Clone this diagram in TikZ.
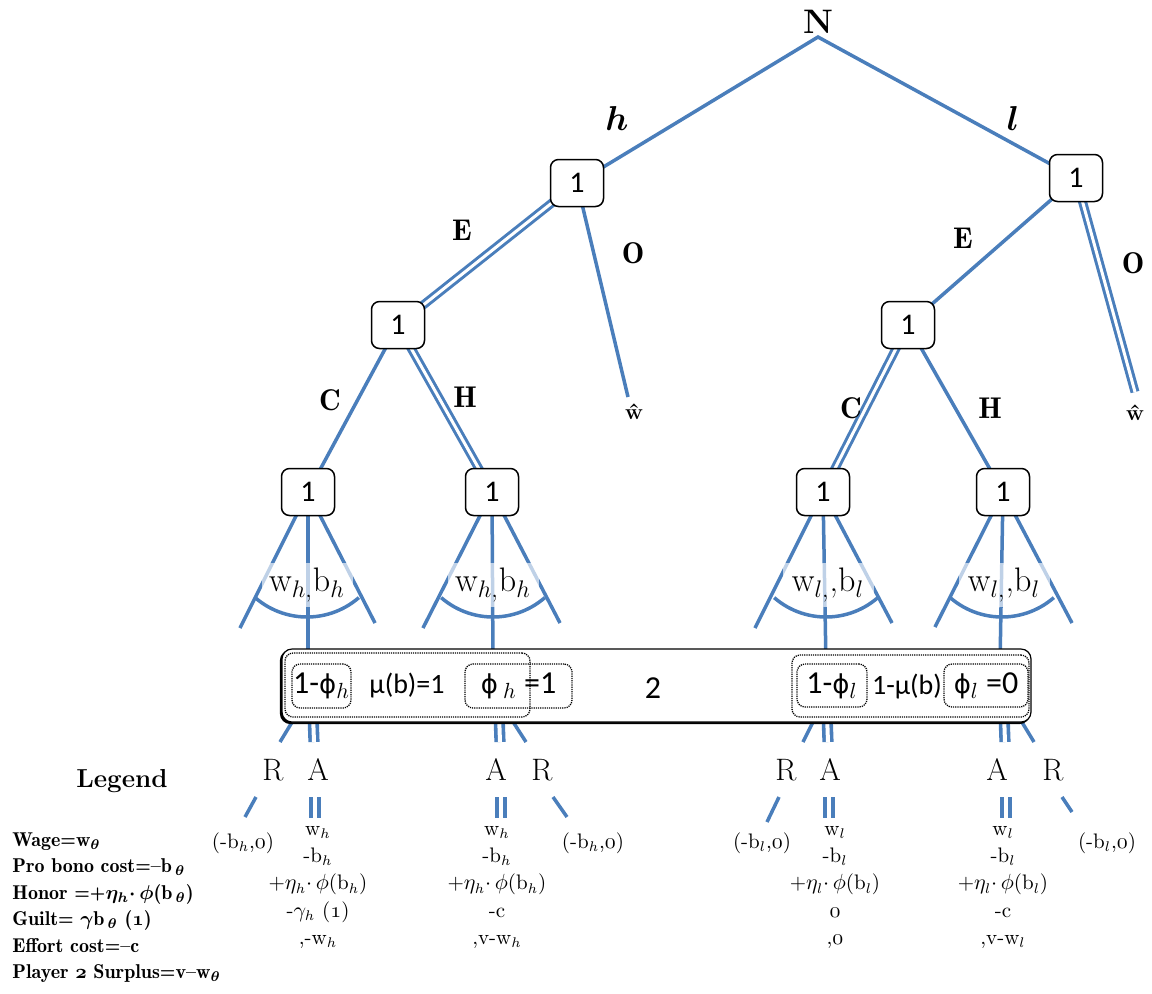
\documentclass[tikz,border=0pt]{standalone}
\usepackage{fontspec}
\newfontfamily\calfont{Carlito}
\newfontfamily\djs{DejaVu Sans}
\definecolor{tb}{RGB}{74,126,187}
\newcommand\osn[1]{$\mathnormal{#1}$}
\newcommand\vphi{{\djs\fontsize{13}{13}\selectfont ϕ}}
\pgfdeclarelayer{edges}
\pgfsetlayers{edges,main}
\tikzset{
  tline/.style={draw=tb,line width=1.75pt},
  dline/.style={draw=tb,line width=1.5pt,double=white,double distance=1.5pt},
  sline/.style={draw=tb,line width=1.8pt,double=white,double distance=2pt},
  pbox/.style={draw=black,line width=0.75pt,rounded corners=4pt,fill=white,minimum width=26.5pt,minimum height=23.5pt,inner sep=0pt,font=\calfont\fontsize{15}{15}\selectfont},
  lab/.style={inner sep=0pt,font=\fontsize{15}{15}\selectfont\fontseries{b}\selectfont},
  ralab/.style={inner sep=0pt,font=\fontsize{15.5}{15.5}\selectfont},
  arclab/.style={fill=white,fill opacity=0.65,text opacity=1,minimum width=45.5pt,minimum height=22pt,inner sep=0pt,font=\fontsize{17}{17}\selectfont},
  bandbox/.style={draw=black,line width=0.6pt,rounded corners=5pt,fill=white,minimum width=374.5pt,minimum height=36.5pt,inner sep=0pt},
  dbox/.style={draw=black,line width=0.65pt,dash pattern=on 0.6pt off 0.5pt,rounded corners=4pt,inner sep=0pt},
  bigtxt/.style={inner sep=0pt,font=\calfont\fontsize{16}{16}\selectfont},
  smalltxt/.style={inner sep=0pt,font=\calfont\fontsize{14}{14}\selectfont},
  pay/.style={inner sep=0pt,align=center,font=\fontsize{10.5}{13.6}\selectfont},
  leg/.style={inner sep=0pt,anchor=base west,font=\fontsize{10}{12}\selectfont\fontseries{b}\selectfont\boldmath},
}
\begin{document}
\begin{tikzpicture}[x=0.5pt,y=-0.5pt]
\useasboundingbox (0,0) rectangle (1152,993);

% ---------- tree nodes ----------
\node[pbox] (n1) at (577,183) {1};
\node[pbox] (n2) at (1076,178) {1};
\node[pbox] (n3) at (398,325) {1};
\node[pbox] (n4) at (908,325) {1};
\node[pbox] (n5) at (308,492) {1};
\node[pbox] (n6) at (492,492) {1};
\node[pbox] (n7) at (823,492) {1};
\node[pbox] (n8) at (1003,492) {1};
\coordinate (root) at (818,37);
\coordinate (w1) at (628,397);
\coordinate (w2) at (1135,392);

% fan end points
\coordinate (f5l) at (240,628); \coordinate (f5r) at (375,623); \coordinate (f5m) at (308,665);
\coordinate (f6l) at (423,628); \coordinate (f6r) at (560,623); \coordinate (f6m) at (493,665);
\coordinate (f7l) at (755,628); \coordinate (f7r) at (892,623); \coordinate (f7m) at (826,665);
\coordinate (f8l) at (935,627); \coordinate (f8r) at (1072,623); \coordinate (f8m) at (1000,665);

% stubs below the information set
\coordinate (ua1) at (297,714); \coordinate (ub1) at (280,742);
\coordinate (ua2) at (313,714); \coordinate (ub2) at (314,742);
\coordinate (ua3) at (499,714); \coordinate (ub3) at (500,742);
\coordinate (ua4) at (508,714); \coordinate (ub4) at (526,742);
\coordinate (ua5) at (817,714); \coordinate (ub5) at (803,742);
\coordinate (ua6) at (827,714); \coordinate (ub6) at (828,742);
\coordinate (ua7) at (1004,714); \coordinate (ub7) at (1005,742);
\coordinate (ua8) at (1017,714); \coordinate (ub8) at (1034,742);
\coordinate (la1) at (256,797); \coordinate (lb1) at (245,817);
\coordinate (la2) at (315,797); \coordinate (lb2) at (315,818);
\coordinate (la3) at (501,797); \coordinate (lb3) at (501,818);
\coordinate (la4) at (553,797); \coordinate (lb4) at (567,817);
\coordinate (la5) at (779,797); \coordinate (lb5) at (767,822);
\coordinate (la6) at (829,797); \coordinate (lb6) at (829,818);
\coordinate (la7) at (1006,797); \coordinate (lb7) at (1006,818);
\coordinate (la8) at (1062,797); \coordinate (lb8) at (1072,812);

\begin{pgfonlayer}{edges}
\draw[tline,line join=miter] (n1.center) -- (root) -- (n2.center);
\draw[dline] (n1.center) -- (n3.center);
\draw[tline] (n1.center) -- (w1);
\draw[tline] (n2.center) -- (n4.center);
\draw[dline] (n2.center) -- (w2);
\draw[tline] (n3.center) -- (n5.center);
\draw[dline] (n3.center) -- (n6.center);
\draw[dline] (n4.center) -- (n7.center);
\draw[tline] (n4.center) -- (n8.center);
\foreach \k in {5,6,7,8}{
  \draw[tline] (n\k.center) -- (f\k l);
  \draw[tline] (n\k.center) -- (f\k r);
  \draw[tline] (n\k.center) -- (f\k m);
}
\foreach \k in {1,4,5,8}{
  \draw[tline] (ua\k) -- (ub\k);
  \draw[tline] (la\k) -- (lb\k);
}
\foreach \k in {2,3,6,7}{
  \draw[sline] (ua\k) -- (ub\k);
  \draw[sline] (la\k) -- (lb\k);
}
\end{pgfonlayer}

% ---------- edge labels ----------
\node[lab,font=\fontsize{17}{17}\selectfont\bfseries] (lN) at (818,22) {N};
\node[lab,font=\fontsize{16}{16}\selectfont\boldmath] (lh) at (617,118) {$h$};
\node[lab,font=\fontsize{16}{16}\selectfont\boldmath] (ll) at (1013,118) {$l$};
\node[lab] (lE1) at (462,230) {E};
\node[lab] (lO1) at (633,253) {O};
\node[lab] (lE2) at (963,238) {E};
\node[lab] (lO2) at (1133,263) {O};
\node[lab] (lC1) at (330,400) {C};
\node[lab] (lH1) at (465,397) {H};
\node[lab] (lC2) at (851,408) {C};
\node[lab] (lH2) at (990,408) {H};
\node[lab,font=\fontsize{11}{11}\selectfont\bfseries] (lw1) at (634,412) {\^w};
\node[lab,font=\fontsize{11}{11}\selectfont\bfseries] (lw2) at (1135,413) {\^w};

% ---------- wage / pro bono arcs ----------
\node[arclab] (a5) at (307,585) {w$_{h,}$b$_h$};
\node[arclab] (a6) at (493,585) {w$_{h,}$b$_h$};
\node[arclab] (a7) at (828,585) {w$_{l,}$,b$_l$};
\node[arclab] (a8) at (1004,585) {w$_{l,}$,b$_l$};
\foreach \cx in {307,493,826,1002}{
  \draw[tline] plot[domain=49:131,samples=30] ({\cx+79*cos(\x)},{538+79*sin(\x)});
}

% ---------- player 2 information set ----------
\node[bandbox,fill=black] (bandsh) at (655,687) {};
\node[bandbox] (band) at (656.5,685.5) {};
\node[dbox,minimum width=122.5pt,minimum height=32pt] (dL) at (407.5,685) {};
\node[dbox,minimum width=29.5pt,minimum height=22pt,font=\calfont\fontsize{16}{16}\selectfont] (dLa) at (321.5,686) {1-\vphi$_h$};
\node[dbox,minimum width=53.5pt,minimum height=22pt,font=\calfont\fontsize{16}{16}\selectfont] (dLb) at (518.5,686) {\vphi\,$_h$ =1};
\node[smalltxt] (mu1) at (407,685) {μ(b)=1};
\node[bigtxt] (two) at (653,688) {2};
\node[dbox,minimum width=118.5pt,minimum height=31pt] (dR) at (910.5,686) {};
\node[dbox,minimum width=35pt,minimum height=21.5pt,font=\calfont\fontsize{16}{16}\selectfont] (dRa) at (832,685.5) {1-\vphi$_l$};
\node[dbox,minimum width=42pt,minimum height=21.5pt,font=\calfont\fontsize{16}{16}\selectfont] (dRb) at (986,685.5) {\vphi$_l$ =0};
\node[smalltxt] (mu2) at (907,686) {1-μ(b)};

% ---------- R / A labels ----------
\node[ralab] (r1) at (273,770) {R};
\node[ralab] (aa1) at (318,770) {A};
\node[ralab] (aa2) at (496,770) {A};
\node[ralab] (r2) at (542,770) {R};
\node[ralab] (r3) at (786,770) {R};
\node[ralab] (aa3) at (830,770) {A};
\node[ralab] (aa4) at (997,770) {A};
\node[ralab] (r4) at (1053,770) {R};

% ---------- payoffs ----------
\node[pay] (q1) at (243,843) {(-b$_h$,\osn{0})};
\node[pay] (q2) at (593,843) {(-b$_h$,\osn{0})};
\node[pay] (q3) at (762,843) {(-b$_l$,\osn{0})};
\node[pay] (q4) at (1107,843) {(-b$_l$,\osn{0})};
\node[pay,anchor=north] (p1) at (318,826) {w$_h$\\-b$_h$\\+$\eta_h{\cdot}\,\phi$(b$_h$)\\-$\gamma_h$ (\osn{1})\\,-w$_h$};
\node[pay,anchor=north] (p2) at (497,826) {w$_h$\\-b$_h$\\+$\eta_h{\cdot}\,\phi$(b$_h$)\\-c\\,v-w$_h$};
\node[pay,anchor=north] (p3) at (835,826) {w$_l$\\-b$_l$\\+$\eta_l{\cdot}\,\phi$(b$_l$)\\\osn{0}\\,\osn{0}};
\node[pay,anchor=north] (p4) at (1003,826) {w$_l$\\-b$_l$\\+$\eta_l{\cdot}\,\phi$(b$_l$)\\-c\\,v-w$_l$};

% ---------- legend ----------
\node[inner sep=0pt,font=\fontsize{13}{13}\selectfont\fontseries{bx}\selectfont] (lg0) at (122,781) {Legend};
\node[leg] (lg1) at (12,846) {Wage=w$_{\theta}$};
\node[leg] (lg2) at (12,872.5) {Pro bono cost=--b$_{\,\theta}$};
\node[leg] (lg3) at (12,899) {Honor =+$\eta_{h}{\cdot}\,\phi$(b$_{\,\theta}$)};
\node[leg] (lg4) at (12,925.5) {Guilt= $\gamma$b$_{\,\theta}$ (\osn{1})};
\node[leg] (lg5) at (12,952) {Effort cost=--c};
\node[leg] (lg6) at (12,978) {Player \osn{2} Surplus=v--w$_{\theta}$};
\end{tikzpicture}
\end{document}
